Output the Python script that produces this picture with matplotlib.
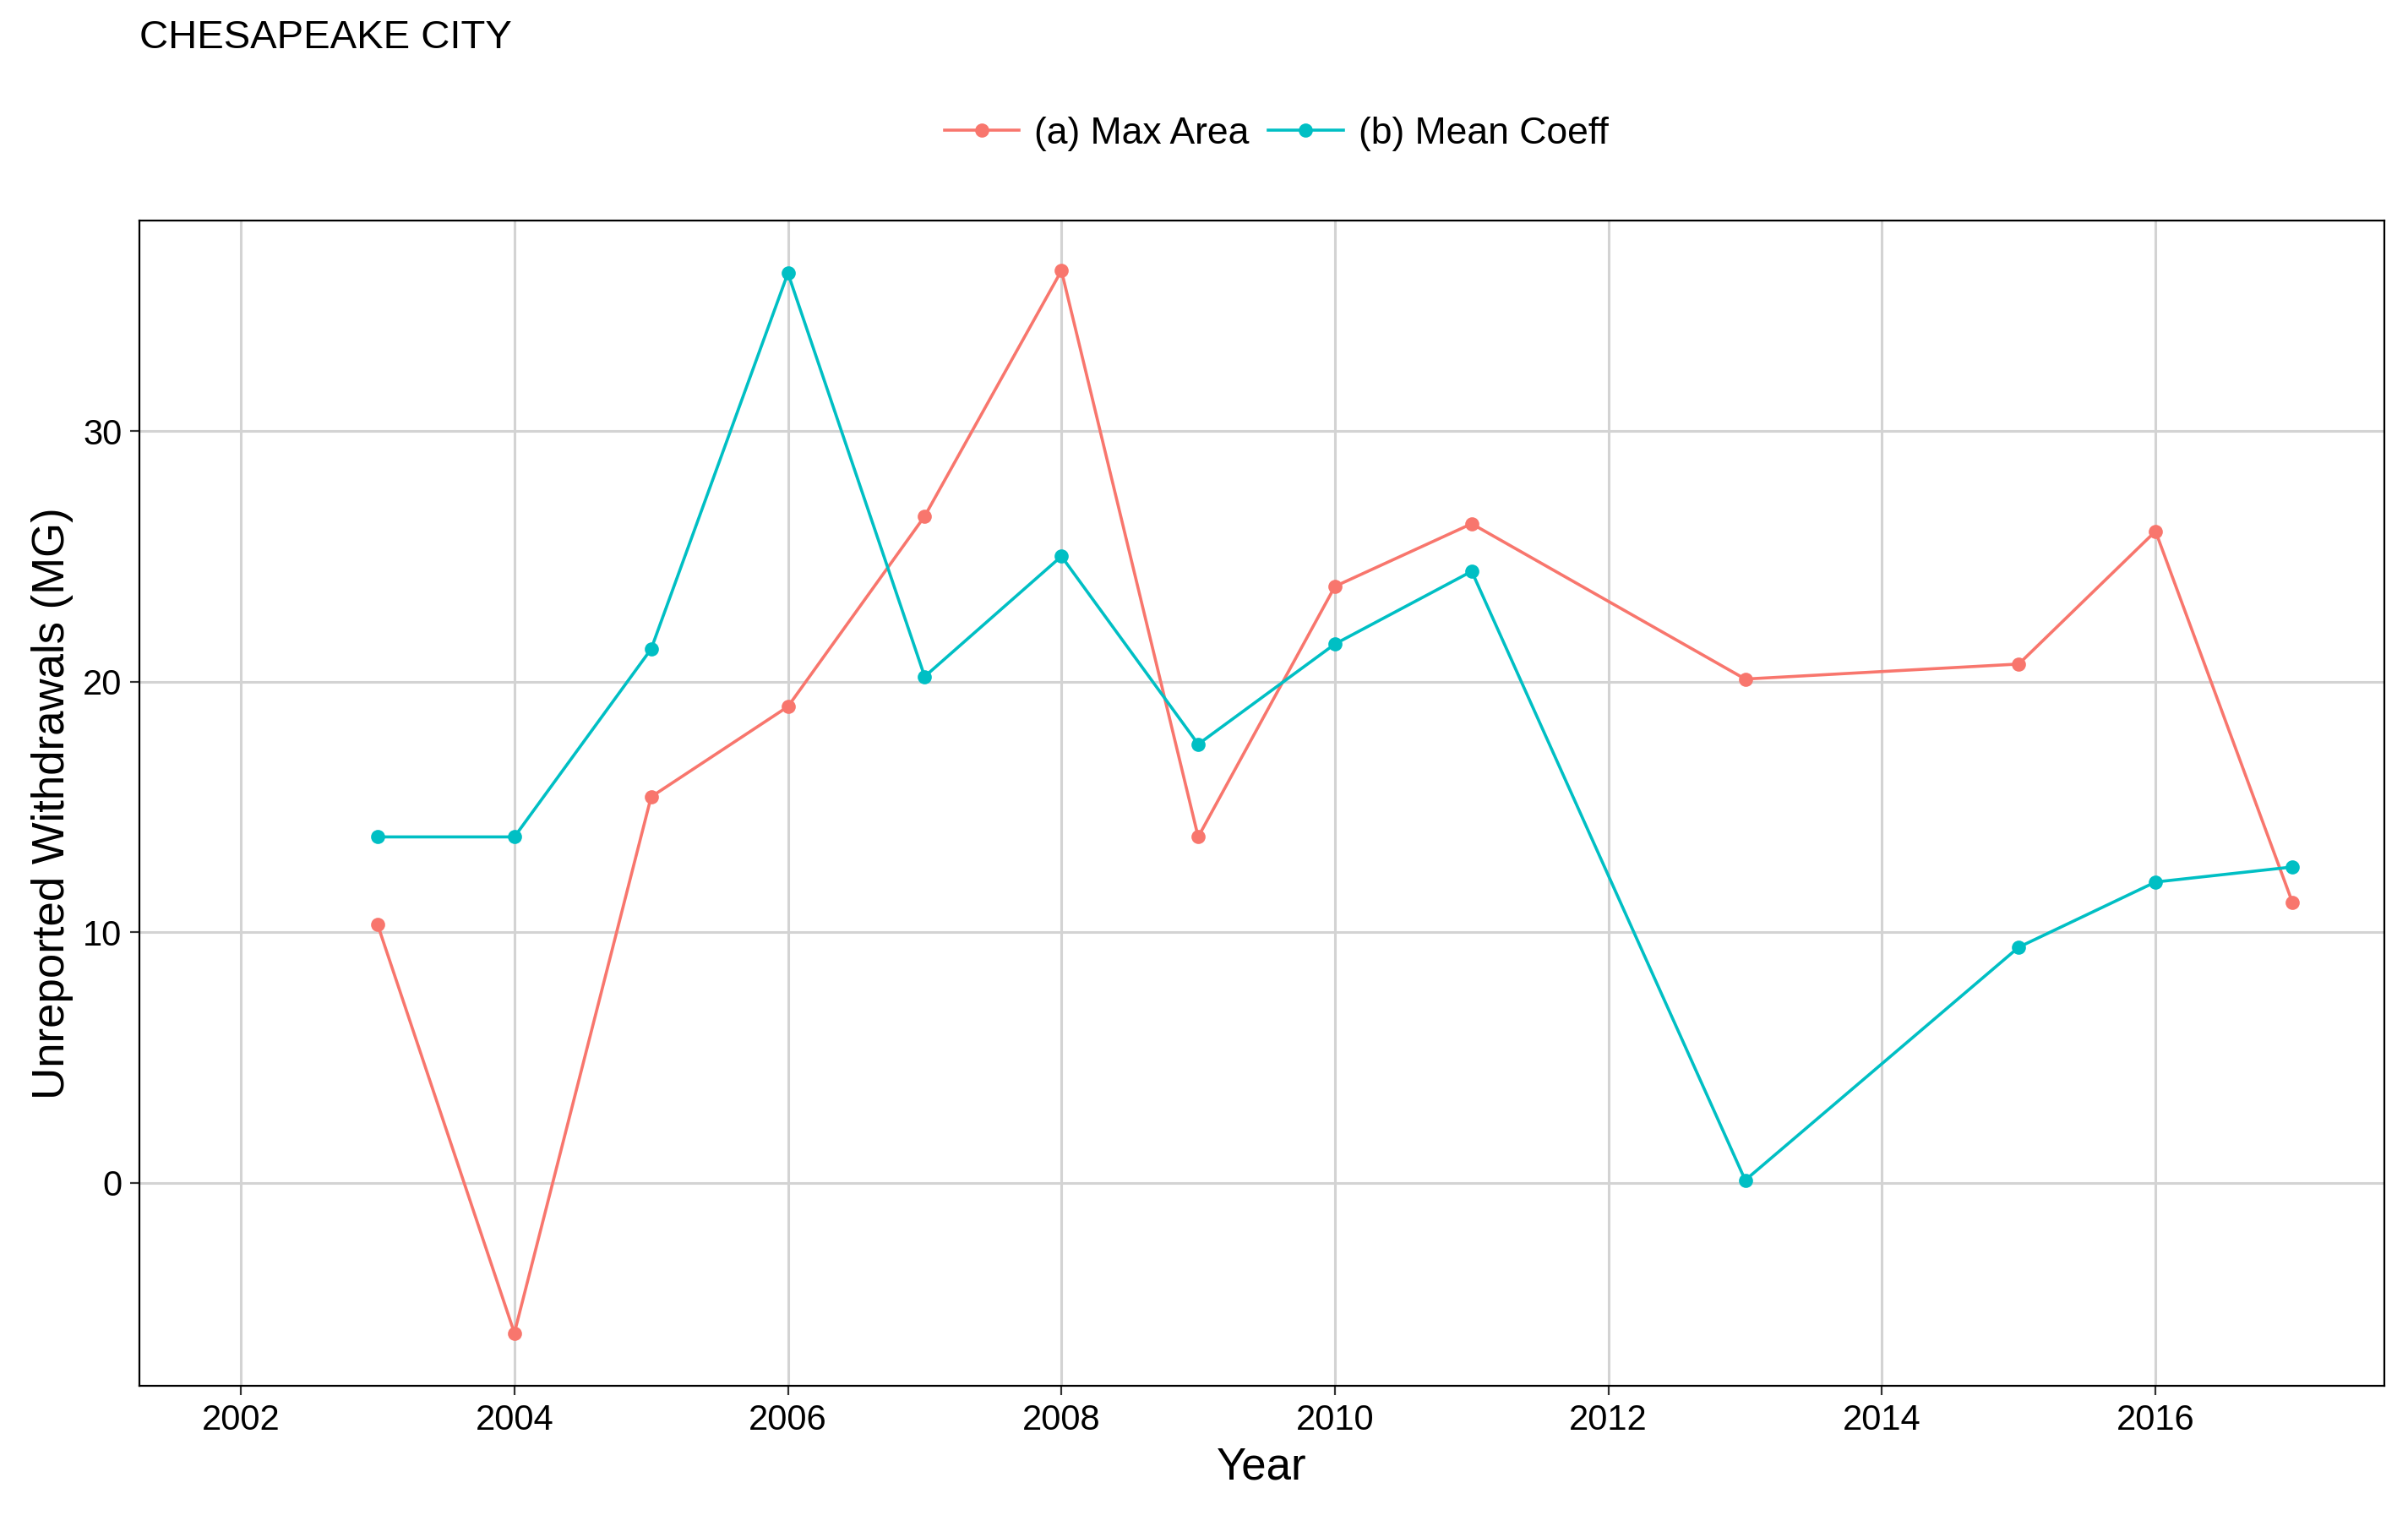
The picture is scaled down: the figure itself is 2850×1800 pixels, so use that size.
import matplotlib
matplotlib.use("Agg")
from matplotlib import pyplot as plt

years = [2003, 2004, 2005, 2006, 2007, 2008, 2009, 2010, 2011, 2013, 2015, 2016, 2017]
max_area = [10.3, -6.0, 15.4, 19.0, 26.6, 36.4, 13.8, 23.8, 26.3, 20.1, 20.7, 26.0, 11.2]
mean_coeff = [13.8, 13.8, 21.3, 36.3, 20.2, 25.0, 17.5, 21.5, 24.4, 0.1, 9.4, 12.0, 12.6]

plt.rcParams['font.family'] = ['Arial', 'Liberation Sans', 'DejaVu Sans']
fig = plt.figure(figsize=(14.25, 9), dpi=200)
ax = fig.add_axes([0.058, 0.089, 0.932, 0.766])

ax.plot(years, max_area, '-o', color='#F8766D', ms=5, lw=1.3, label='(a) Max Area')
ax.plot(years, mean_coeff, '-o', color='#00BFC4', ms=5, lw=1.3, label='(b) Mean Coeff')

ax.set_xlim(2001.26, 2017.67)
ax.set_ylim(-8.1, 38.4)
ax.set_xticks(range(2002, 2017, 2))
ax.set_yticks([0, 10, 20, 30])
ax.grid(True, color='#D3D3D3', lw=1.1)
ax.set_axisbelow(True)
for s in ax.spines.values():
    s.set_color('black')
ax.tick_params(labelsize=15, color='#333333', length=4)
ax.set_xlabel('Year', fontsize=19)
ax.set_ylabel('Unreported Withdrawals (MG)', fontsize=19)

fig.text(0.058, 0.975, 'CHESAPEAKE CITY', fontsize=17, va='center')
fig.legend(loc='center', bbox_to_anchor=(0.53, 0.912), ncol=2, frameon=False,
           fontsize=16, handlelength=2, columnspacing=0.5, handletextpad=0.4)

fig.savefig('out.png')
